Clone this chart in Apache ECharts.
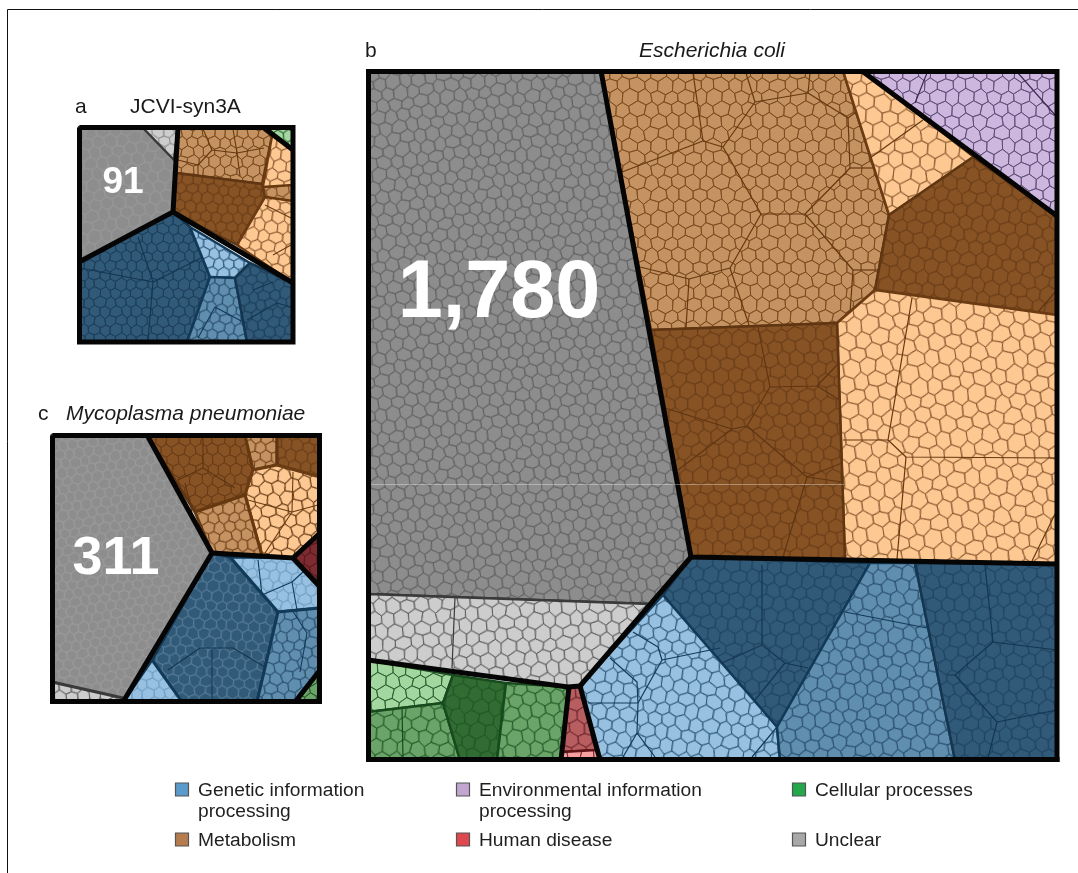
<!DOCTYPE html>
<html><head><meta charset="utf-8">
<style>html,body{margin:0;padding:0;background:#fff}#c{width:1078px;height:873px}</style>
<script src="https://cdn.jsdelivr.net/npm/echarts@6/dist/echarts.min.js"></script>
</head><body><div id="c"></div>
<script>
/* ---------- labels ---------- */
const panelTitles = [
  {t:'a',x:75,y:107},{t:'JCVI-syn3A',x:130,y:107},
  {t:'b',x:365,y:51},{t:'Escherichia coli',x:639,y:51,i:1},
  {t:'c',x:38,y:414},{t:'Mycoplasma pneumoniae',x:66,y:414,i:1}
];
const legendNames = ['Genetic information\nprocessing','Metabolism','Environmental information\nprocessing','Human disease','Cellular processes','Unclear'];
const legendColors = ['#5b9bcb','#b57c4e','#c2a6cf','#e0484f','#24a84b','#a8a8a8'];
const unclearCounts = ['91','1,780','311'];

/* ---------- regions: [shade, outline] ---------- */
const ecoliRegions = [
 ['grey',[[368,71],[601,71],[691,557],[650,604],[368,594]]],
 ['lgrey',[[368,594],[650,604],[580,686],[569,687],[368,660]]],
 ['lbrown',[[601,71],[843,71],[889,215],[875,290],[837,323],[651,330]]],
 ['orange',[[843,71],[862,71],[974,157],[889,215]]],
 ['dbrown',[[889,215],[973,157],[1057,216],[1057,315],[875,290]]],
 ['orange',[[837,323],[875,290],[1057,315],[1057,564],[845,559]]],
 ['dbrown',[[651,330],[837,323],[845,559],[691,557]]],
 ['purple',[[862,71],[1057,71],[1057,216]]],
 ['dblue',[[691,557],[870,563],[777,727],[663,595]]],
 ['lblue',[[663,595],[777,727],[780,760],[600,760],[580,686]]],
 ['mblue',[[870,563],[915,563],[955,760],[780,760],[777,727]]],
 ['dblue',[[915,563],[1057,564],[1057,760],[955,760]]],
 ['lgreen',[[368,660],[453,675],[443,703],[368,712]]],
 ['mgreen',[[368,712],[443,703],[460,760],[368,760]]],
 ['dgreen',[[453,675],[506,683],[497,760],[460,760],[443,703]]],
 ['mgreen',[[506,683],[569,687],[561,760],[497,760]]],
 ['red',[[568,687],[580,687],[596,750],[562,752]]],
 ['pink',[[562,752],[596,750],[600,760],[561,760]]]
];
const jcviRegions = [
 ['grey',[[79,127],[178,127],[173,212],[79,262]]],
 ['lgrey',[[142,127],[178,127],[174,160]]],
 ['lbrown',[[178,127],[263,127],[272,136],[262,184],[176,173]]],
 ['dbrown',[[176,173],[262,184],[265,197],[237,245],[173,212]]],
 ['orange',[[272,136],[263,129],[293,150],[293,283],[237,245],[265,197],[263,186]]],
 ['lbrown',[[263,187],[293,185],[293,201],[265,197]]],
 ['lgreen',[[263,127],[293,127],[293,150]]],
 ['dblue',[[173,212],[190,227],[210,277],[187,342],[79,342],[79,262]]],
 ['lblue',[[190,227],[250,263],[235,278],[210,277]]],
 ['mblue',[[210,277],[235,278],[247,342],[187,342]]],
 ['dblue',[[235,278],[250,263],[293,283],[293,342],[247,342]]]
];
const mycoRegions = [
 ['grey',[[52,435],[147,435],[212,553],[123,701],[52,682]]],
 ['lgrey',[[52,682],[123,698],[123,702],[52,702]]],
 ['dbrown',[[147,435],[245,435],[253,470],[245,495],[195,512]]],
 ['lbrown',[[245,435],[277,435],[277,465],[253,470]]],
 ['dbrown',[[277,435],[320,435],[320,477],[277,465]]],
 ['orange',[[253,470],[277,465],[320,477],[320,533],[293,558],[262,556],[245,495]]],
 ['lbrown',[[195,512],[245,495],[262,556],[212,553]]],
 ['dred',[[293,558],[320,533],[320,587]]],
 ['dblue',[[212,553],[230,557],[278,612],[257,702],[182,702],[152,660]]],
 ['lblue',[[230,557],[293,558],[320,587],[320,608],[278,612]]],
 ['mblue',[[278,612],[320,608],[320,670],[295,702],[257,702]]],
 ['lblue',[[152,660],[182,702],[123,702]]],
 ['mgreen',[[320,670],[320,702],[296,702]]]
];

/* ---------- third-level boundaries ---------- */
const ecoliThin = [
 ['lbrown',[[755,102],[808,93],[848,118],[850,168],[805,214],[761,214],[723,147],[755,102]]],
 ['lbrown',[[755,102],[746,73]]],['lbrown',[[808,93],[810,73]]],['lbrown',[[848,118],[856,112]]],['lbrown',[[850,168],[873,168]]],
 ['lbrown',[[723,147],[703,141],[622,172]]],['lbrown',[[703,141],[693,73]]],
 ['lbrown',[[761,214],[730,268],[689,279],[640,267]]],['lbrown',[[689,279],[686,328]]],['lbrown',[[730,268],[749,325]]],
 ['lbrown',[[805,214],[853,270],[850,313]]],['lbrown',[[853,270],[878,270]]],
 ['lbrown',[[870,158],[923,120]]],['dbrown',[[1038,312],[1057,290]]],
 ['lbrown',[[912,298],[888,440],[906,457],[1057,458]]],['lbrown',[[888,440],[843,440]]],['lbrown',[[906,457],[897,559]]],['lbrown',[[1057,510],[1032,561]]],
 ['dbrown',[[758,327],[770,387],[817,386],[837,365]]],['dbrown',[[817,386],[838,399]]],
 ['dbrown',[[770,387],[747,426],[732,429],[665,408]]],['dbrown',[[732,429],[678,470]]],
 ['dbrown',[[747,426],[807,477],[842,463]]],['dbrown',[[807,477],[842,482]]],['dbrown',[[807,477],[783,557]]],
 ['lblue',[[720,648],[662,660],[658,647],[633,632]]],['lblue',[[662,660],[638,703]]],['lblue',[[610,658],[637,682],[638,703]]],
 ['lblue',[[588,703],[638,703],[637,733],[623,757]]],['lblue',[[637,733],[655,757]]],['lblue',[[777,727],[752,757]]],
 ['dblue',[[762,565],[762,645],[722,663]]],['dblue',[[762,645],[785,663],[808,668]]],['dblue',[[785,663],[755,700]]],
 ['mblue',[[845,612],[927,628]]],
 ['dblue',[[985,565],[993,642],[1057,650]]],['dblue',[[993,642],[955,675],[947,675]]],['dblue',[[955,675],[997,722],[1057,710]]],['dblue',[[997,722],[988,758]]],
 ['lgrey',[[455,597],[452,668]]],['mgreen',[[402,708],[403,758]]],
 ['purple',[[927,73],[915,103]]],['purple',[[1018,73],[1055,115]]]
];
const jcviThin = [
 ['lbrown',[[212,150],[198,165],[178,160]]],['lbrown',[[198,165],[198,175]]],['lbrown',[[212,150],[203,129]]],
 ['lbrown',[[212,150],[237,153],[233,129]]],['lbrown',[[237,153],[240,176]]],['lbrown',[[237,153],[264,148]]],
 ['orange',[[265,205],[291,218]]],['orange',[[273,255],[291,245]]],
 ['dblue',[[80,268],[153,282],[138,237]]],['dblue',[[153,282],[148,340]]],['dblue',[[153,282],[203,257]]],
 ['mblue',[[245,323],[215,307],[198,338]]],
 ['dblue',[[253,290],[273,282]]],['dblue',[[247,320],[277,303],[291,307]]]
];
const mycoThin = [
 ['dbrown',[[203,437],[203,468],[178,480]]],['dbrown',[[203,468],[235,488]]],['dbrown',[[185,483],[192,512]]],
 ['orange',[[293,472],[292,512],[265,553]]],['orange',[[248,500],[292,512],[318,505]]],
 ['dblue',[[168,670],[200,648],[233,648],[265,667]]],['dblue',[[212,650],[212,700]]],
 ['mblue',[[292,610],[307,633],[300,672]]],
 ['lblue',[[258,560],[262,595],[292,582],[303,572]]],['lblue',[[292,582],[297,610]]]
];

/* ---------- first-level boundaries ---------- */
const ecoliThick = [
 [[368.5,71.5],[1057,71.5],[1057,759.5],[368.5,759.5],[368.5,71.5]],
 [[601,71],[691,557],[1057,564]],[[691,557],[580,686],[600,760]],
 [[368,660],[568,687],[580,686]],[[569,687],[561,760]],[[862,71],[1057,216]]
];
const jcviThick = [
 [[79.5,127.5],[293,127.5],[293,342],[79.5,342],[79.5,127.5]],
 [[178,127],[173,212],[79,262]],[[173,212],[293,283]],[[263,127],[293,150]]
];
const mycoThick = [
 [[52.5,435.5],[319.5,435.5],[319.5,701.5],[52.5,701.5],[52.5,435.5]],
 [[147,435],[212,553],[123,702]],[[212,553],[293,558],[320,533]],[[293,558],[320,587]],[[295,702],[320,670]]
];

/* ---------- styling ---------- */
const shades = {
 grey:{fill:'#8d8d8d',mesh:'#5f5f5f',edge:'#333333'},
 lgrey:{fill:'#cdcdcd',mesh:'#5a5a5a',edge:'#3a3a3a'},
 lbrown:{fill:'#c59362',mesh:'#7a4a20',edge:'#66380f'},
 dbrown:{fill:'#875325',mesh:'#683b16',edge:'#5f3512'},
 orange:{fill:'#fdc892',mesh:'#84532a',edge:'#6b3c14'},
 purple:{fill:'#cdb7de',mesh:'#5f4c74',edge:'#3e2c52'},
 dblue:{fill:'#315a79',mesh:'#1e425e',edge:'#143650'},
 mblue:{fill:'#608eaf',mesh:'#274c68',edge:'#123a58'},
 lblue:{fill:'#98c1e1',mesh:'#285272',edge:'#123a58'},
 lgreen:{fill:'#a2d7a0',mesh:'#2b5c2e',edge:'#1c4d20'},
 mgreen:{fill:'#6aa468',mesh:'#245626',edge:'#174a1c'},
 dgreen:{fill:'#316d33',mesh:'#215424',edge:'#174a1c'},
 red:{fill:'#b85e60',mesh:'#6a2428',edge:'#5d1418'},
 pink:{fill:'#f4a0a0',mesh:'#7a2a2e',edge:'#5d1418'},
 dred:{fill:'#7d2a30',mesh:'#571a1e',edge:'#4f1418'}
};
const panels = [
 {regions:jcviRegions,thin:jcviThin,thick:jcviThick,grid:[79,127,214,215],cell:10.5,overrides:{grey:{mesh:'#9a9a9a',size:12},lgrey:{mesh:'#8a8a8a',size:11},dblue:{mesh:'#1b3d59'},orange:{size:12},lbrown:{size:11}},edgeW:2.5,thinW:.9},
 {regions:ecoliRegions,thin:ecoliThin,thick:ecoliThick,grid:[368,71,689,689],cell:14,overrides:{orange:{size:16},grey:{size:13}},edgeW:2.5,thinW:1},
 {regions:mycoRegions,thin:mycoThin,thick:mycoThick,grid:[52,435,267,267],cell:11.5,overrides:{grey:{mesh:'#9c9c9c',size:10},dblue:{mesh:'#5a7d98',size:11},lblue:{mesh:'#6d9cc0',size:11},orange:{mesh:'#5a2f0c',size:13},lbrown:{mesh:'#6e3f18',size:11}},edgeW:3,thinW:.9}
];
/* fixed offsets that keep the cell texture from looking like a perfect lattice */
const wobble = [[.12,-.08],[-.1,.14],[.06,.1],[-.14,-.05],[.09,.13],[-.04,-.12],
 [-.12,.06],[.15,.03],[-.06,-.13],[.1,-.1],[-.09,.12],[.13,.07],
 [.05,.14],[-.13,-.09],[.11,-.04],[-.07,.09],[.14,-.12],[-.11,.02],
 [-.05,-.14],[.08,.08],[-.15,.11],[.03,-.07],[.12,.12],[-.08,-.1],
 [.14,.05],[-.12,-.13],[.04,.12],[.1,-.14],[-.14,.08],[.07,-.03],
 [-.03,.13],[.11,-.11],[-.1,-.06],[.13,.1],[-.06,.05],[.09,-.13]];
const tileCache = {};
function meshTile(fill,mesh,size,lw){
  const key=[fill,mesh,size,lw].join();
  if(tileCache[key]) return tileCache[key];
  const C=6,R=6,W=Math.round(C*size),H=Math.round(R*size*.866),w=W/C,h=H/R;
  const cv=document.createElement('canvas');cv.width=W;cv.height=H;
  const g=cv.getContext('2d');g.fillStyle=fill;g.fillRect(0,0,W,H);
  const ctr=(i,j)=>{const o=wobble[((j%R+R)%R)*C+((i%C+C)%C)];
    return [(i+((j%2+2)%2?.5:0)+o[0]*1.6)*w,(j+o[1]*1.6)*h];};
  g.strokeStyle=mesh;g.lineWidth=lw;g.lineJoin='round';
  for(let j=-1;j<=R;j++)for(let i=-1;i<=C;i++){
    const odd=(j%2+2)%2,p=ctr(i,j);
    const nb=[[i+1,j],[i+odd,j+1],[i+odd-1,j+1],[i-1,j],[i+odd-1,j-1],[i+odd,j-1]].map(a=>ctr(a[0],a[1]));
    g.beginPath();
    nb.forEach((n,k)=>{const m=nb[(k+1)%6],x=(p[0]+n[0]+m[0])/3,y=(p[1]+n[1]+m[1])/3;k?g.lineTo(x,y):g.moveTo(x,y);});
    g.closePath();g.stroke();
  }
  return tileCache[key]=cv;
}
function polyCoords(api,pts){return pts.map(p=>api.coord(p));}

const grids=[],xAxes=[],yAxes=[],series=[];
panels.forEach((P,k)=>{
  const [l,t,w,h]=P.grid;
  grids.push({left:l,top:t,width:w,height:h,containLabel:false});
  xAxes.push({type:'value',gridIndex:k,min:l,max:l+w,show:false});
  yAxes.push({type:'value',gridIndex:k,min:t,max:t+h,inverse:true,show:false});
  const base={type:'custom',coordinateSystem:'cartesian2d',xAxisIndex:k,yAxisIndex:k,silent:true,clip:false,animation:false};
  series.push(Object.assign({},base,{name:'regions'+k,z:2,data:P.regions.map((r,i)=>[i]),
    renderItem(params,api){
      const r=P.regions[params.dataIndex],s=shades[r[0]],o=P.overrides[r[0]]||{};
      const img=meshTile(s.fill,o.mesh||s.mesh,o.size||P.cell,.85);
      return {type:'polygon',shape:{points:polyCoords(api,r[1])},
        style:{fill:{image:img,repeat:'repeat',rotation:(params.dataIndex%5-2)*.07},stroke:s.edge,lineWidth:P.edgeW,lineJoin:'round'}};
    }}));
  series.push(Object.assign({},base,{name:'thin'+k,z:3,data:P.thin.map((r,i)=>[i]),
    renderItem(params,api){
      const r=P.thin[params.dataIndex];
      return {type:'polyline',shape:{points:polyCoords(api,r[1])},style:{fill:null,stroke:shades[r[0]].edge,lineWidth:P.thinW+.2,lineJoin:'round'}};
    }}));
  series.push(Object.assign({},base,{name:'thick'+k,z:4,data:P.thick.map((r,i)=>[i]),
    renderItem(params,api){
      return {type:'polyline',shape:{points:polyCoords(api,P.thick[params.dataIndex])},style:{fill:null,stroke:'#050505',lineWidth:5,lineJoin:'miter',lineCap:'butt'}};
    }}));
});

/* ---------- page furniture and text ---------- */
const font='"Liberation Sans",Arial,sans-serif';
const graphics=[
 {type:'line',shape:{x1:7.5,y1:9.5,x2:1078,y2:9.5},style:{stroke:'#111',lineWidth:1}},
 {type:'line',shape:{x1:7.5,y1:9.5,x2:7.5,y2:873},style:{stroke:'#111',lineWidth:1}},
 {type:'line',z:10,shape:{x1:371,y1:484.5,x2:844,y2:484.5},style:{stroke:'rgba(255,255,255,.35)',lineWidth:1}},
 {type:'rect',z:9,shape:{x:366,y:69,width:5,height:5},style:{fill:'#050505'}},
 {type:'rect',z:9,shape:{x:1054.5,y:757,width:5,height:5},style:{fill:'#050505'}}
];
panelTitles.forEach(p=>graphics.push({type:'text',x:p.x,y:p.y,style:{text:p.t,fill:'#1a1a1a',font:(p.i?'italic ':'')+'21px '+font,textVerticalAlign:'middle'}}));
[[123,183,37],[499,295,81],[116,559,54]].forEach((n,i)=>graphics.push({type:'text',z:20,x:n[0],y:n[1],style:{text:unclearCounts[i],fill:'#fff',font:'bold '+n[2]+'px '+font,textAlign:'center',textVerticalAlign:'middle'}}));
const legendPos=[[175,790],[175,840],[456,790],[456,840],[792,790],[792,840]];
legendNames.forEach((n,i)=>{
  const [x,y]=legendPos[i];
  graphics.push({type:'rect',shape:{x:x+.5,y:y-7,width:13,height:13},style:{fill:legendColors[i],stroke:'#555',lineWidth:1.2}});
  n.split('\n').forEach((ln,j)=>graphics.push({type:'text',x:x+23,y:y+1+j*21,style:{text:ln,fill:'#1f1f1f',font:'19.2px '+font,textVerticalAlign:'middle'}}));
});
const chart=echarts.init(document.getElementById('c'),null,{renderer:'canvas'});
chart.setOption({animation:false,backgroundColor:'#fff',grid:grids,xAxis:xAxes,yAxis:yAxes,series,graphic:{elements:graphics}});
</script></body></html>
